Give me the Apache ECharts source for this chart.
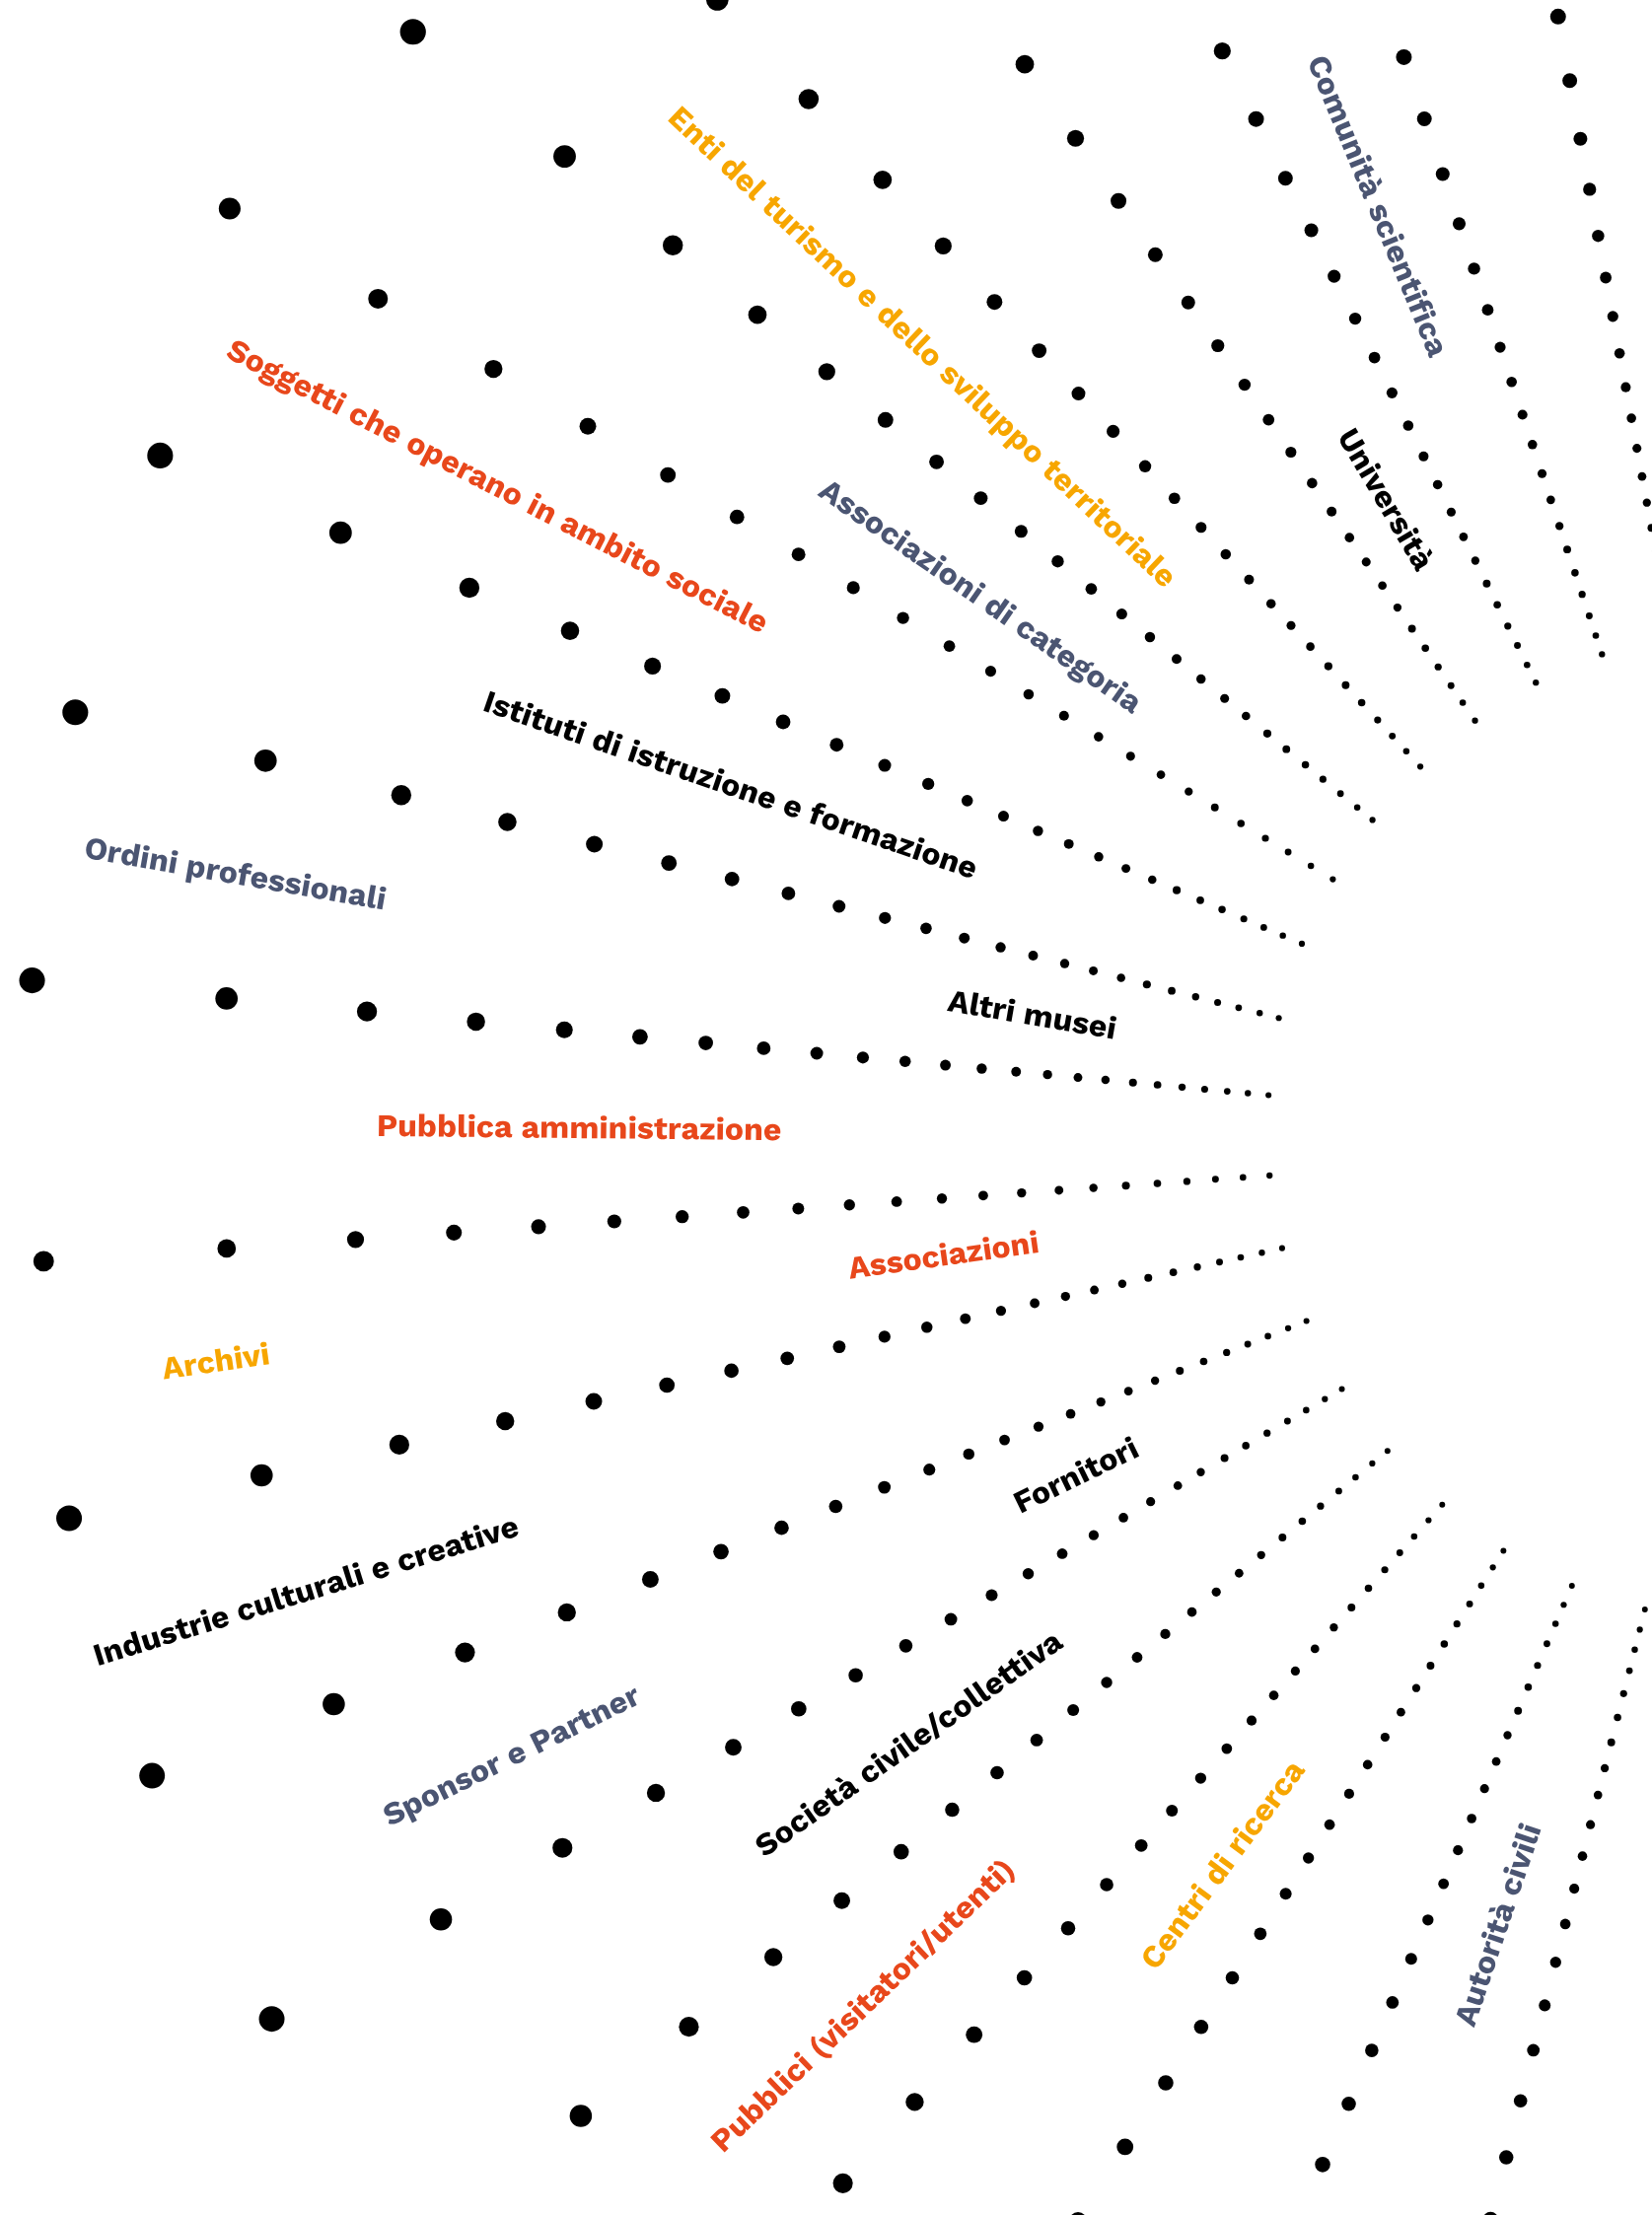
<!DOCTYPE html>
<html>
<head>
<meta charset="utf-8">
<script src="https://cdn.jsdelivr.net/npm/echarts@6/dist/echarts.min.js"></script>
<style>
html,body{margin:0;padding:0;background:#ffffff;}
#chart{width:1675px;height:2246px;}
</style>
</head>
<body>
<div id="chart"></div>
<script>
// ---- DATA ----
// angle of each ray of dots (degrees, counter-clockwise from 3 o'clock)
const rayAngles = [100.35, 108.35, 116.4, 124.45, 132.5, 140.6, 148.7, 156.85, 165.75, 174.7,
                   184.0, 192.55, 201.5, 210.48, 219.5, 228.55, 237.6, 246.7, 255.8];
// radial distance of every visible dot on each ray (px units of the radius axis)
const rayA = [1159, 1093, 1033, 981, 933, 890, 850, 812, 777, 745, 714, 685, 658, 632, 608];
const rayB = [1158, 1092, 1033, 980, 932, 888, 848, 811, 776, 744, 713, 685, 657, 632, 607, 584, 561, 540, 520];
const rayC = [1234, 1157, 1090, 1031, 979, 931, 887, 847, 810, 775, 743, 712, 684, 657, 631, 607, 583, 561, 539, 519];
const rayD = [1324, 1233, 1156, 1090, 1031, 978, 930, 887, 847, 809, 774, 742, 712, 683, 656, 630, 606, 583, 560, 539, 517];
const rayE = [1570, 1433, 1322, 1231, 1154, 1087, 1028, 976, 928, 884, 844, 807, 772, 739, 709, 680, 653, 627, 603, 579, 557, 536, 515];
const rayF = [1772, 1573, 1431, 1320, 1229, 1152, 1085, 1027, 974, 926, 882, 842, 805, 770, 738, 707, 679, 651, 626, 601, 578, 555, 533, 513];
const rayG = [1820, 1644, 1507, 1395, 1300, 1218, 1145, 1080, 1021, 966, 917, 872, 830, 789, 751, 715, 682, 651, 620, 591, 564, 537, 511];
const rayH = [1768, 1569, 1427, 1316, 1225, 1148, 1081, 1022, 969, 921, 878, 838, 800, 766, 733, 703, 674, 647, 621, 597, 573, 551, 530, 509];
const rayI = [1766, 1567, 1425, 1314, 1223, 1145, 1079, 1020, 967, 919, 876, 836, 798, 764, 731, 701, 672, 645, 619, 594, 571, 549, 527, 507];
const rayJ = [1763, 1565, 1422, 1311, 1221, 1144, 1077, 1018, 964, 917, 874, 833, 796, 761, 729, 698, 670, 642, 617, 592, 569, 546, 525, 504];
const rayK = [1748, 1562, 1431, 1331, 1245, 1168, 1099, 1037, 981, 929, 881, 835, 793, 754, 716, 681, 648, 616, 586, 557, 529, 502];
const rayL = [1760, 1560, 1417, 1307, 1215, 1139, 1072, 1014, 960, 913, 869, 829, 792, 757, 725, 695, 666, 639, 613, 588, 565, 543, 521, 500];
const rayM = [1756, 1558, 1415, 1304, 1213, 1136, 1070, 1011, 958, 909, 866, 827, 790, 755, 722, 692, 663, 636, 610, 585, 562, 540, 518, 498];
const rayN = [1755, 1556, 1413, 1303, 1212, 1135, 1068, 1009, 956, 908, 865, 825, 788, 753, 721, 689, 662, 634, 609, 584, 560, 538, 516, 496];
const rayO = [1554, 1412, 1301, 1211, 1133, 1066, 1007, 955, 907, 863, 823, 786, 751, 719, 689, 660, 632, 606, 582, 558, 536, 514, 494];
const rayP = [1410, 1300, 1209, 1132, 1065, 1006, 953, 906, 862, 822, 784, 750, 717, 687, 658, 631, 605, 580, 557, 535, 513, 492];
const rayQ = [1297, 1208, 1131, 1064, 1005, 952, 904, 861, 821, 784, 749, 716, 686, 657, 630, 604, 580, 556, 534, 512, 492];
const rayR = [1130, 1063, 1004, 951, 903, 860, 820, 783, 748, 715, 685, 656, 629, 603, 579, 555, 533, 512, 491];
const rayS = [1128, 1063, 1004, 951, 904, 859, 819, 782, 748, 715, 684, 656, 629, 603, 578, 554, 532, 511, 490];
const rays = [rayA, rayB, rayC, rayD, rayE, rayF, rayG, rayH, rayI, rayJ, rayK, rayL, rayM, rayN, rayO, rayP, rayQ, rayR, rayS];

// category labels
const labelNames = [
  'Comunità scientifica', 'Università', 'Enti del turismo e dello sviluppo territoriale',
  'Associazioni di categoria', 'Soggetti che operano in ambito sociale',
  'Istituti di istruzione e formazione', 'Ordini professionali', 'Altri musei',
  'Pubblica amministrazione', 'Associazioni', 'Archivi', 'Industrie culturali e creative',
  'Fornitori', 'Sponsor e Partner', 'Società civile/collettiva',
  'Pubblici (visitatori/utenti)', 'Centri di ricerca', 'Autorità civili'
];
const labelAngles = [112.46, 120.55, 136.69, 145.22, 152.68, 161.03, 170.11, 170.28, 179.41,
                     188.01, 188.14, 197.19, 206.02, 206.18, 215.24, 223.87, 233.29, 251.36];
const labelRadii  = [1025.8, 755, 1172.9, 967.1, 1445.1, 1107.9, 1573, 752.4, 1201,
                     839.3, 1584.9, 1546.7, 775.1, 1414.1, 1060.5, 1265.7, 916.1, 839];
const labelGroups = ['slate', 'black', 'amber', 'slate', 'red', 'black', 'slate', 'black', 'red',
                     'red', 'amber', 'black', 'black', 'slate', 'black', 'red', 'amber', 'slate'];

// ---- STYLE ----
const groupColors = { red: '#E8471B', amber: '#F7A600', slate: '#4B5572', black: '#000000' };
const CENTER = [1788, 1157];
const RMAX = 2400;
// dot diameter grows with the radius (perspective-like); two rays grow more slowly
const sizeRule = { base: 6.1, r0: 504, exp: 1.16 };
const sizeRuleOverride = { 6: { base: 6.2, r0: 511, exp: 1.0 }, 10: { base: 6.3, r0: 502, exp: 0.96 } };

const chart = echarts.init(document.getElementById('chart'), null, { renderer: 'canvas', width: 1675, height: 2246 });

const series = [];
rays.forEach(function (radii, i) {
  const rule = sizeRuleOverride[i] || sizeRule;
  series.push({
    type: 'scatter',
    coordinateSystem: 'polar',
    silent: true,
    symbol: 'circle',
    symbolSize: function (v) { return rule.base * Math.pow(v[0] / rule.r0, rule.exp); },
    itemStyle: { color: '#000000', opacity: 1 },
    data: radii.map(function (r) { return [r, rayAngles[i]]; }),
    z: 2
  });
});

series.push({
  type: 'scatter',
  coordinateSystem: 'polar',
  silent: true,
  symbolSize: 1,
  itemStyle: { color: 'rgba(0,0,0,0)', opacity: 1 },
  z: 5,
  data: labelNames.map(function (name, i) {
    return {
      name: name,
      value: [labelRadii[i], labelAngles[i]],
      label: {
        show: true,
        position: 'inside',
        formatter: name,
        rotate: labelAngles[i] - 180,
        color: groupColors[labelGroups[i]],
        opacity: 1,
        fontFamily: "'Work Sans', Inter, 'Open Sans', sans-serif",
        fontSize: 32,
        fontWeight: 700,
        align: 'center',
        verticalAlign: 'middle'
      }
    };
  })
});

chart.setOption({
  animation: false,
  backgroundColor: '#ffffff',
  polar: { center: CENTER, radius: RMAX },
  angleAxis: { type: 'value', min: 0, max: 360, startAngle: 0, clockwise: false, show: false },
  radiusAxis: { type: 'value', min: 0, max: RMAX, show: false },
  series: series
});
</script>
</body>
</html>
